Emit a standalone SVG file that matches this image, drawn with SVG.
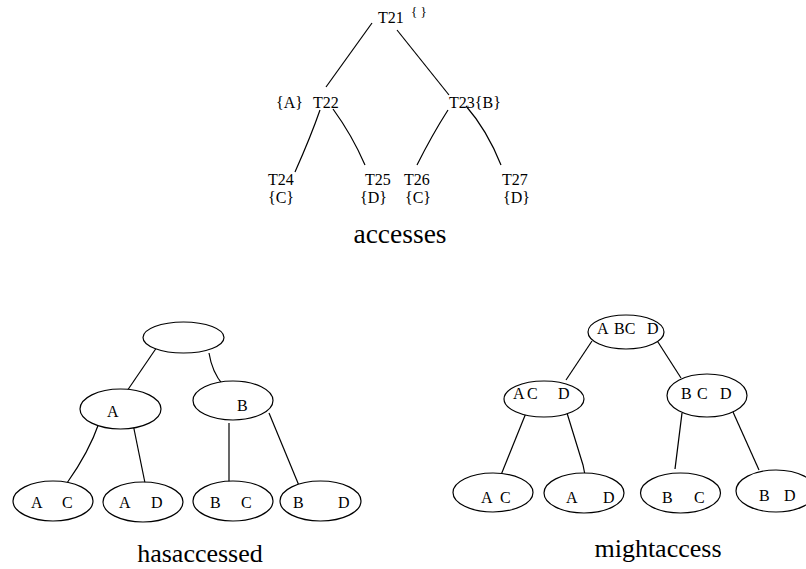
<svg xmlns="http://www.w3.org/2000/svg" width="806" height="569" viewBox="0 0 806 569">
<style>
text{font-family:"Liberation Serif","Times New Roman",serif;fill:#000}
.t{font-size:16px}
.s{font-size:13px}
.n{font-size:16px}
.cap{font-size:26px;text-anchor:middle}
ellipse{fill:#fff;stroke:#000;stroke-width:1.2}
#edges path{fill:none;stroke:#000;stroke-width:1.2}
</style>
<rect width="806" height="569" fill="#fff"/>
<g id="edges">
<path d="M372,23 L326,87"/>
<path d="M397,30 L449,95"/>
<path d="M320,110 Q311,136 295,172"/>
<path d="M333,109 Q352,135 365,165"/>
<path d="M448,110 Q432,135 417,165"/>
<path d="M466,106 Q487,130 501,165"/>
<path d="M157,347 L127,391"/>
<path d="M209,353 Q212,372 223,385"/>
<path d="M99,423 Q89,452 67,483"/>
<path d="M133,424 L145,483"/>
<path d="M229,423 L229,483"/>
<path d="M269,413 L300,488"/>
<path d="M592,341 L566,380"/>
<path d="M656,339 L681,378"/>
<path d="M526,413 L501,475"/>
<path d="M567,413 L583,465 L585,475"/>
<path d="M682,413 L675,469"/>
<path d="M733,412 L759,470"/>
</g>
<g id="accesses">
<g id="T21"><text class="t" x="378" y="23">T21</text><text class="s" x="411" y="16">{ }</text></g>
<g id="T22"><text class="t" x="276" y="108">{A}</text><text class="t" x="313" y="108">T22</text></g>
<g id="T23"><text class="t" x="449" y="108">T23{B}</text></g>
<g id="T24"><text class="t" x="268" y="185">T24</text><text class="t" x="268" y="203">{C}</text></g>
<g id="T25"><text class="t" x="365" y="185">T25</text><text class="t" x="360" y="203">{D}</text></g>
<g id="T26"><text class="t" x="404" y="185">T26</text><text class="t" x="405" y="203">{C}</text></g>
<g id="T27"><text class="t" x="502" y="185">T27</text><text class="t" x="503" y="203">{D}</text></g>
<text class="cap" x="400" y="243" style="font-size:27.5px">accesses</text>
</g>
<g id="hasaccessed">
<g id="h-root"><ellipse cx="183.5" cy="337.5" rx="40.5" ry="15.5"/></g>
<g id="h-A"><ellipse cx="120.5" cy="409" rx="40.5" ry="20"/><text class="n" x="107" y="417">A</text></g>
<g id="h-B"><ellipse cx="233" cy="400.5" rx="40" ry="19.5"/><text class="n" x="237" y="411">B</text></g>
<g id="h-AC"><ellipse cx="53" cy="501" rx="40" ry="20"/><text class="n" y="508"><tspan x="31">A</tspan><tspan x="62">C</tspan></text></g>
<g id="h-AD"><ellipse cx="143" cy="502" rx="40" ry="20"/><text class="n" y="508"><tspan x="119">A</tspan><tspan x="151">D</tspan></text></g>
<g id="h-BC"><ellipse cx="233" cy="501" rx="40" ry="20"/><text class="n" y="508"><tspan x="210">B</tspan><tspan x="241">C</tspan></text></g>
<g id="h-BD"><ellipse cx="320.5" cy="501" rx="40.5" ry="20"/><text class="n" y="508"><tspan x="293">B</tspan><tspan x="338">D</tspan></text></g>
<text class="cap" x="200" y="562">hasaccessed</text>
</g>
<g id="mightaccess">
<g id="m-root"><ellipse cx="626" cy="332" rx="38" ry="17"/><text class="n" y="334"><tspan x="597">A</tspan><tspan x="614">BC</tspan><tspan x="647">D</tspan></text></g>
<g id="m-ACD"><ellipse cx="544" cy="399" rx="40" ry="18"/><text class="n" y="399"><tspan x="513">A</tspan><tspan x="527">C</tspan><tspan x="558">D</tspan></text></g>
<g id="m-BCD"><ellipse cx="707" cy="395.5" rx="40" ry="21.5"/><text class="n" y="399"><tspan x="681">B</tspan><tspan x="697">C</tspan><tspan x="720">D</tspan></text></g>
<g id="m-AC"><ellipse cx="493" cy="492.5" rx="40" ry="19.5"/><text class="n" y="503"><tspan x="481">A</tspan><tspan x="500">C</tspan></text></g>
<g id="m-AD"><ellipse cx="584" cy="493" rx="40" ry="20"/><text class="n" y="503"><tspan x="566">A</tspan><tspan x="603">D</tspan></text></g>
<g id="m-BC"><ellipse cx="680.5" cy="493" rx="40" ry="20"/><text class="n" y="503"><tspan x="662">B</tspan><tspan x="694">C</tspan></text></g>
<g id="m-BD"><ellipse cx="776" cy="491" rx="40" ry="21"/><text class="n" y="501"><tspan x="759">B</tspan><tspan x="784">D</tspan></text></g>
<text class="cap" x="658" y="557">mightaccess</text>
</g>
</svg>
